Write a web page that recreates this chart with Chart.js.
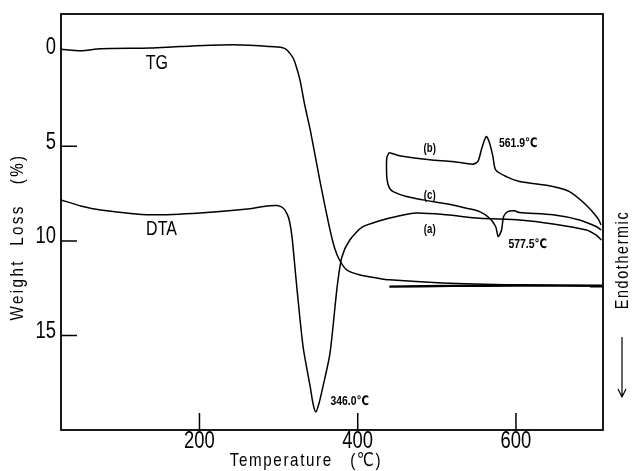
<!DOCTYPE html>
<html>
<head>
<meta charset="utf-8">
<script src="https://cdn.jsdelivr.net/npm/chart.js@4.4.1/dist/chart.umd.min.js"></script>
<style>
  html, body { margin: 0; padding: 0; background: #fff; }
  #wrap { width: 632px; height: 471px; }
</style>
</head>
<body>
<div id="wrap"><canvas id="myChart"></canvas></div>
<script>
// Axis ticks
const tempTicks = [200, 400, 600];
const lossTicks = [0, 5, 10, 15];
const lossMarks = [5, 10, 15];
const rightMarks = [12.43];

// TG (weight loss, %)
const tgTemp = [25, 50, 75, 138, 176, 242, 289, 305, 310, 314, 318, 321, 327, 333, 340, 352, 365, 371, 377, 386, 403, 424, 440, 507, 600, 709];
const tgLoss = [-0.14, -0.05, -0.16, -0.2, -0.28, -0.37, -0.28, -0.22, -0.12, 0.07, 0.3, 0.6, 1.48, 2.8, 4.13, 6.77, 9.42, 10.4, 11.01, 11.53, 11.8, 11.96, 12.06, 12.22, 12.32, 12.37];

// second TG trace lying on the plateau
const tg2Temp = [440, 520, 600, 709];
const tg2Loss = [12.42, 12.38, 12.36, 12.37];

// DTA (a)
const dtaATemp = [25, 50, 75, 138, 201, 264, 285, 298, 306, 311, 314, 317, 323, 331, 340, 343.5, 347, 351, 356, 365, 374, 380, 390, 406, 428, 449, 474, 512, 554, 605, 647, 689, 701, 708];
const dtaAVal = [7.83, 8.15, 8.36, 8.62, 8.52, 8.30, 8.15, 8.13, 8.27, 8.6, 9.0, 9.8, 12.43, 15.61, 17.72, 18.6, 19.05, 18.6, 17.72, 15.93, 12.43, 10.85, 9.95, 9.26, 8.93, 8.71, 8.53, 8.62, 8.80, 8.89, 9.10, 9.42, 9.68, 9.95];

// DTA (b)
const dtaBTemp = [439.6, 453, 491, 520, 545.6, 551.9, 556.2, 559.5, 562.5, 566.7, 570.9, 574.3, 587.8, 604.6, 646.6, 667.6, 688.7, 703.4, 707.6];
const dtaBVal = [5.33, 5.50, 5.71, 5.80, 5.94, 5.80, 5.19, 4.75, 4.48, 4.83, 5.54, 6.24, 6.60, 6.86, 7.12, 7.39, 8.10, 8.80, 9.15];

// DTA (c)
const dtaCTemp = [439.6, 436.8, 436.4, 437.1, 440, 444.7, 461.6, 482.5, 512.1, 537.3, 554.1, 566.7, 574.3, 577.5, 581.8, 584.4, 589.8, 598.2, 604.6, 646.6, 680.3, 701.3, 707.6];
const dtaCVal = [5.33, 5.6, 6.2, 6.77, 7.2, 7.39, 7.65, 7.83, 8.04, 8.27, 8.45, 8.80, 9.24, 9.77, 9.42, 8.71, 8.45, 8.41, 8.50, 8.62, 8.89, 9.24, 9.42];

// labels written on the plot
const notes = [
  { text: 'TG', x: 146, y: 0.6, size: 20, weight: 'normal' },
  { text: 'DTA', x: 152, y: 9.42, size: 20, weight: 'normal' },
  { text: '(b)', x: 491, y: 5.1, size: 12, weight: 'bold' },
  { text: '(c)', x: 491, y: 7.6, size: 12, weight: 'bold' },
  { text: '(a)', x: 491, y: 9.42, size: 12, weight: 'bold' },
  { text: '561.9℃', x: 603, y: 4.83, size: 13, weight: 'bold' },
  { text: '577.5℃', x: 615, y: 10.2, size: 13, weight: 'bold' },
  { text: '346.0℃', x: 390, y: 18.5, size: 13, weight: 'bold' }
];

const FONT = '"Liberation Sans", "DejaVu Sans", sans-serif';

const pts = (xs, ys) => xs.map((v, i) => ({ x: v, y: ys[i] }));

const line = (data, width) => ({
  data: data,
  showLine: true,
  borderColor: '#000',
  borderWidth: width || 1.5,
  pointRadius: 0,
  tension: 0.25,
  fill: false
});

// condensed text: squeeze along the writing direction
function text(ctx, str, x, y, size, weight, spacing, rot) {
  ctx.save();
  ctx.translate(x, y);
  if (rot) ctx.rotate(rot);
  ctx.scale(0.8, 1);
  ctx.font = `${weight || 'normal'} ${size}px ${FONT}`;
  ctx.letterSpacing = (spacing || 0) + 'px';
  ctx.fillText(str, 0, 0);
  ctx.restore();
}

const decor = {
  id: 'decor',
  afterDraw(chart) {
    const { ctx, chartArea: a, scales: { x, y } } = chart;
    ctx.save();
    ctx.strokeStyle = '#000';
    ctx.fillStyle = '#000';
    ctx.lineWidth = 1.8;
    ctx.strokeRect(a.left, a.top, a.right - a.left, a.bottom - a.top);

    // inward tick marks
    ctx.lineWidth = 1.5;
    ctx.beginPath();
    tempTicks.forEach(v => {
      const px = x.getPixelForValue(v);
      ctx.moveTo(px, a.bottom);
      ctx.lineTo(px, a.bottom - 17);
    });
    lossMarks.forEach(v => {
      const py = y.getPixelForValue(v);
      ctx.moveTo(a.left, py);
      ctx.lineTo(a.left + 16, py);
    });
    rightMarks.forEach(v => {
      const py = y.getPixelForValue(v);
      ctx.moveTo(a.right, py);
      ctx.lineTo(a.right - 13, py);
    });
    ctx.stroke();

    // tick labels
    ctx.textBaseline = 'middle';
    ctx.textAlign = 'center';
    x.ticks.forEach(t => {
      text(ctx, String(t.value), x.getPixelForValue(t.value), a.bottom + 12, 23, 'normal', 0);
    });
    ctx.textAlign = 'right';
    y.ticks.forEach(t => {
      text(ctx, String(t.value), a.left - 5, y.getPixelForValue(t.value) - 4, 23, 'normal', 0);
    });

    // notes on the plot
    ctx.textAlign = 'center';
    notes.forEach(n => {
      text(ctx, n.text, x.getPixelForValue(n.x), y.getPixelForValue(n.y), n.size, n.weight, 0);
    });

    // axis titles
    text(ctx, 'Temperature   (℃)', 306, 461, 19, 'normal', 2);
    text(ctx, 'Weight  Loss   (%)', 18, 237, 19, 'normal', 3, -Math.PI / 2);

    // Endothermic with arrow
    text(ctx, 'Endothermic', 623, 260, 18, 'normal', 2, -Math.PI / 2);
    ctx.lineWidth = 1.2;
    ctx.beginPath();
    ctx.moveTo(622, 337);
    ctx.lineTo(622, 397);
    ctx.moveTo(618, 389);
    ctx.lineTo(622, 397);
    ctx.lineTo(626, 389);
    ctx.stroke();
    ctx.restore();
  }
};

const config = {
  type: 'scatter',
  data: {
    datasets: [
      line(pts(tgTemp, tgLoss)),
      line(pts(tg2Temp, tg2Loss), 2.4),
      line(pts(dtaATemp, dtaAVal)),
      line(pts(dtaBTemp, dtaBVal)),
      line(pts(dtaCTemp, dtaCVal))
    ]
  },
  options: {
    responsive: false,
    animation: false,
    layout: { padding: { top: 14, right: 29, left: 0, bottom: 0 } },
    plugins: { legend: { display: false }, tooltip: { enabled: false } },
    scales: {
      x: {
        type: 'linear',
        min: 25,
        max: 710,
        afterBuildTicks: s => { s.ticks = tempTicks.map(v => ({ value: v })); },
        afterFit: s => { s.height = 41; },
        grid: { display: false, drawTicks: false },
        border: { display: false },
        ticks: { display: false }
      },
      y: {
        type: 'linear',
        reverse: true,
        min: -2,
        max: 20,
        afterBuildTicks: s => { s.ticks = lossTicks.map(v => ({ value: v })); },
        afterFit: s => { s.width = 61; },
        grid: { display: false, drawTicks: false },
        border: { display: false },
        ticks: { display: false }
      }
    }
  },
  plugins: [decor]
};

const canvas = document.getElementById('myChart');
canvas.width = 632;
canvas.height = 471;
const myChart = new Chart(canvas, config);
</script>
</body>
</html>
